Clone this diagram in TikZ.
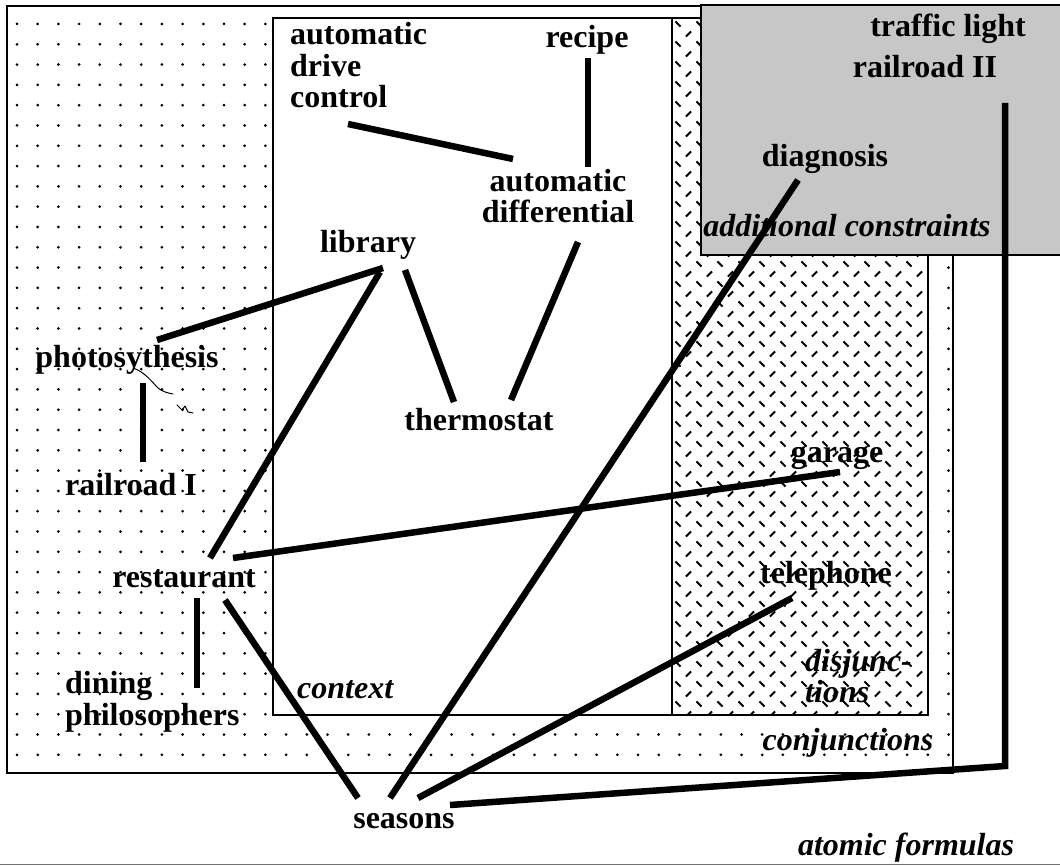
\documentclass[tikz,border=0pt]{standalone}
\usepackage{fontspec}
\setmainfont{Liberation Serif}
\usetikzlibrary{calc}
\tikzset{
  lbl/.style={font=\bfseries\fontsize{32}{31.5}\selectfont, inner sep=0pt, anchor=base},
  ilbl/.style={lbl, font=\bfseries\itshape\fontsize{32}{27.5}\selectfont},
  conn/.style={line width=6.5pt},
  frame/.style={line width=2.8pt},
  dotfill/.style={fill=black},
  hatchstroke/.style={line width=2pt},
  pen/.style={line width=1pt, line cap=round, line join=round},
}
\begin{document}
\begin{tikzpicture}[x=1pt,y=-1pt]
\useasboundingbox (0,0) rectangle (1060,866);
% atomic formulas (outer region bottom line)
\draw[line width=1.2pt, black!55] (0,864.5) -- (1060,864.5);
% conjunctions
\fill[white] (7,6) rectangle (953,773);
\foreach \i in {0,...,45} \foreach \j in {0,...,36} \fill[dotfill] (17+20.7*\i, 24+20.3*\j) circle (1.5);
\draw[frame] (7,6) rectangle (953,773);
% context
\draw[frame, fill=white] (273,18) rectangle (672,715);
% disjunctions
\fill[white] (672,18) rectangle (928,715);
\begin{scope}
  \clip (673.5,19.5) rectangle (926.5,713.5);
  \foreach \j in {0,...,70} {
    \pgfmathsetmacro{\s}{1-2*mod(\j,2)}
    \pgfmathsetmacro{\o}{10.5*mod(\j,2)}
    \foreach \i in {0,...,12}
      \draw[hatchstroke] (678+\o+21*\i-2.6, 24+10*\j-2.6*\s) -- (678+\o+21*\i+2.6, 24+10*\j+2.6*\s);
  }
\end{scope}
\draw[frame] (672,18) rectangle (928,715);
% additional constraints
\fill[black!22] (701,5) rectangle (1062,255);
\draw[frame] (1062,5) -- (701,5) -- (701,255) -- (1062,255);

% labels (multi-line nodes: base = last line)
\node[lbl, anchor=base west, align=left] (adc) at (290,108) {automatic\\drive\\control};
\node[lbl] (recipe) at (587,48) {recipe};
\node[lbl, align=center] (autodiff) at (558,223) {automatic\\differential};
\node[lbl] (library) at (368,253) {library};
\node[lbl] (photo) at (127,367) {photosythesis};
\node[lbl] (thermo) at (479,430) {thermostat};
\node[lbl] (rrI) at (131,495) {railroad I};
\node[lbl] (rest) at (184,587) {restaurant};
\node[lbl, anchor=base west, align=left] (dining) at (65,725) {dining\\philosophers};
\node[ilbl, anchor=base west] (context) at (297,698) {context};
\node[lbl] (seasons) at (404,828) {seasons};
\node[lbl] (traffic) at (948,37) {traffic light};
\node[lbl] (rrII) at (925,78) {railroad II};
\node[lbl] (diag) at (825,167) {diagnosis};
\node[ilbl] (addc) at (847,237) {additional constraints};
\node[lbl] (garage) at (837,462) {garage};
\node[lbl] (tel) at (826,583) {telephone};
\node[ilbl, anchor=base west, align=left] (disj) at (805,702) {disjunc-\\tions};
\node[ilbl] (conj) at (848,750) {conjunctions};
\node[ilbl] (atomic) at (906,855) {atomic formulas};

% handwritten pen mark
\draw[pen] (133,368) .. controls (145,372) and (152,382) .. (158,388) .. controls (163,392) and (168,393) .. (173,394);
\draw[pen] (177,405) -- (182,410) -- (185,406) -- (188,412) -- (193,413);

% connectors
\coordinate (bend) at (1005,766);
\draw[conn] ($(adc.base west)+(58,16)$) -- ($(autodiff.base)+(-45,-64)$);
\draw[conn] ($(recipe.base)+(1,10)$) -- ($(autodiff.base)+(30,-56)$);
\draw[conn] ($(library.base)+(15,15)$) -- ($(photo.base)+(30,-27)$);
\draw[conn] ($(library.base)+(12,19)$) -- ($(rest.base)+(26,-29)$);
\draw[conn] ($(library.base)+(37,17)$) -- ($(thermo.base)+(-25,-28)$);
\draw[conn] ($(autodiff.base)+(20,19)$) -- ($(thermo.base)+(32,-30)$);
\draw[conn] ($(photo.base)+(16,16)$) -- ($(rrI.base)+(12,-33)$);
\draw[conn] ($(rest.base)+(49,-29)$) -- ($(garage.base)+(3,10)$);
\draw[conn] ($(rest.base)+(13,11)$) -- ($(dining.base west)+(132,-37)$);
\draw[conn] ($(rest.base)+(41,13)$) -- ($(seasons.base)+(-46,-30)$);
\draw[conn] ($(seasons.base)+(-14,-30)$) -- ($(diag.base)+(-27,13)$);
\draw[conn] ($(seasons.base)+(14,-30)$) -- ($(tel.base)+(-34,15)$);
\draw[conn] ($(seasons.base)+(46,-23)$) -- (bend) -- ($(rrII.base)+(80,25)$);
\end{tikzpicture}
\end{document}
